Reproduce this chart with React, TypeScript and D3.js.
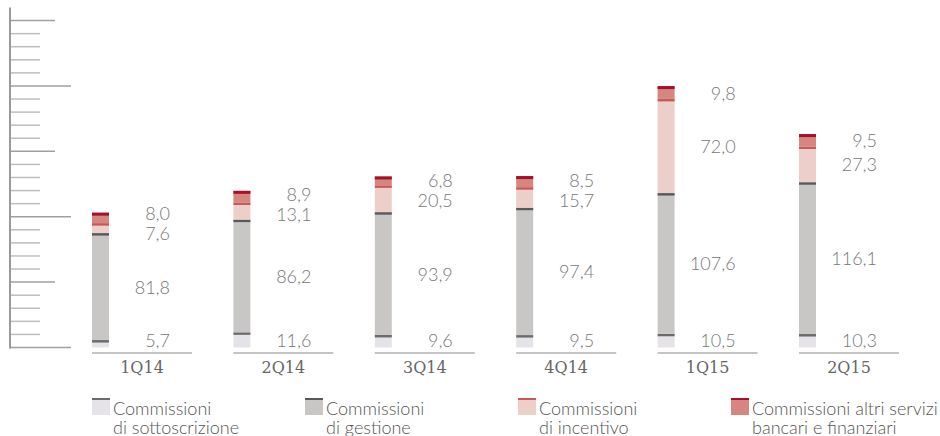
import React from 'react';
import * as d3 from 'd3';

// quarters and commission components (EUR mln)
const quarters = ['1Q14', '2Q14', '3Q14', '4Q14', '1Q15', '2Q15'];
const sottoscrizione = [5.7, 11.6, 9.6, 9.5, 10.5, 10.3];
const gestione = [81.8, 86.2, 93.9, 97.4, 107.6, 116.1];
const incentivo = [7.6, 13.1, 20.5, 15.7, 72.0, 27.3];
const altriServizi = [8.0, 8.9, 6.8, 8.5, 9.8, 9.5];

const seriesKeys = ['sottoscrizione', 'gestione', 'incentivo', 'altri'];
const legendLines = [
  ['Commissioni', 'di sottoscrizione'],
  ['Commissioni', 'di gestione'],
  ['Commissioni', 'di incentivo'],
  ['Commissioni altri servizi', 'bancari e finanziari'],
];

const fills = ['#e5e3e7', '#c8c7c5', '#edcfca', '#d4867f'];
const caps = ['#6b6b6b', '#595959', '#c8585a', '#a80f2c'];

const W = 940;
const H = 436;

const rows = quarters.map((q, i) => ({
  quarter: q,
  sottoscrizione: sottoscrizione[i],
  gestione: gestione[i],
  incentivo: incentivo[i],
  altri: altriServizi[i],
}));

const fmt = (v: number) => d3.format('.1f')(v).replace('.', ',');

// spread labels that sit too close together
const spread = (ys: number[], gap: number) => {
  const out = ys.slice();
  for (let it = 0; it < 20; it++) {
    for (let k = 0; k < out.length - 1; k++) {
      const d = out[k] - out[k + 1]; // k is lower on screen (bigger y)
      if (d < gap) {
        const push = (gap - d) / 2;
        out[k] += push;
        out[k + 1] -= push;
      }
    }
  }
  return out;
};

const App = () => {
  const y = d3.scaleLinear().domain([0, 260]).range([347.5, 7.5]);
  const x = d3.scaleBand().domain(quarters).range([92, 92 + 141.4 * quarters.length]);
  const barW = 17;

  const stacked = d3.stack<any>().keys(seriesKeys)(rows);
  const ticks = d3.range(0, 251, 10);

  return (
    <div style={{ position: 'absolute', left: 0, top: 0 }}>
      <svg width={W} height={H} style={{ display: 'block' }}>
        {/* left ruler axis */}
        {ticks.map((t) => {
          const len = t % 100 === 0 ? 61 : t % 50 === 0 ? 45 : 30;
          return (
            <line
              key={t}
              x1={10}
              x2={10 + len}
              y1={y(t)}
              y2={y(t)}
              stroke={t % 50 === 0 ? '#a0a0a0' : '#bdbdbd'}
              strokeWidth={1.5}
            />
          );
        })}
        <line x1={10} x2={10} y1={y(260)} y2={y(0) + 1} stroke="#9a9a9a" strokeWidth={2} />

        {/* bars */}
        {stacked.map((s, si) => (
          <g key={s.key}>
            {s.map((d, i) => {
              const top = y(d[1]);
              const bottom = y(d[0]);
              const capH = si === 3 ? 3 : 2.5;
              return (
                <g key={i}>
                  <rect x={x(quarters[i])} y={top} width={barW} height={bottom - top} fill={fills[si]} />
                  <rect x={x(quarters[i])} y={top} width={barW} height={capH} fill={caps[si]} />
                </g>
              );
            })}
          </g>
        ))}

        {/* value labels */}
        {quarters.map((q, i) => {
          const mids = stacked.map((s) => (y(s[i][0]) + y(s[i][1])) / 2);
          mids[0] = Math.min(mids[0], 340);
          const ys = spread(mids, 20);
          return (
            <g key={q}>
              {stacked.map((s, si) => (
                <text
                  key={si}
                  x={(x(q) as number) + 78}
                  y={ys[si]}
                  textAnchor="end"
                  dominantBaseline="central"
                  fontFamily="Lato, 'Open Sans', sans-serif"
                  fontWeight={300}
                  fontSize={18}
                  fill="#777"
                >
                  {fmt(s[i][1] - s[i][0])}
                </text>
              ))}
            </g>
          );
        })}

        {/* category baselines and labels */}
        {quarters.map((q) => (
          <g key={q}>
            <line x1={x(q)} x2={(x(q) as number) + 100} y1={353} y2={353} stroke="#8a8a8a" strokeWidth={1.2} />
            <text
              x={(x(q) as number) + 50}
              y={373}
              textAnchor="middle"
              fontFamily="'DejaVu Serif', 'Liberation Serif', serif"
              fontSize={16}
              fill="#666"
            >
              {q}
            </text>
          </g>
        ))}

        {/* legend */}
        {legendLines.map((lines, i) => {
          const lx = 92 + i * 213;
          return (
            <g key={i}>
              <rect x={lx} y={398} width={18} height={17} fill={fills[i]} />
              <rect x={lx} y={398} width={18} height={2} fill={caps[i]} />
              {lines.map((t, li) => (
                <text
                  key={li}
                  x={lx + 21}
                  y={415 + li * 19}
                  fontFamily="Lato, 'Open Sans', sans-serif"
                  fontWeight={300}
                  fontSize={18}
                  fill="#555"
                >
                  {t}
                </text>
              ))}
            </g>
          );
        })}
      </svg>
    </div>
  );
};

export default App;
